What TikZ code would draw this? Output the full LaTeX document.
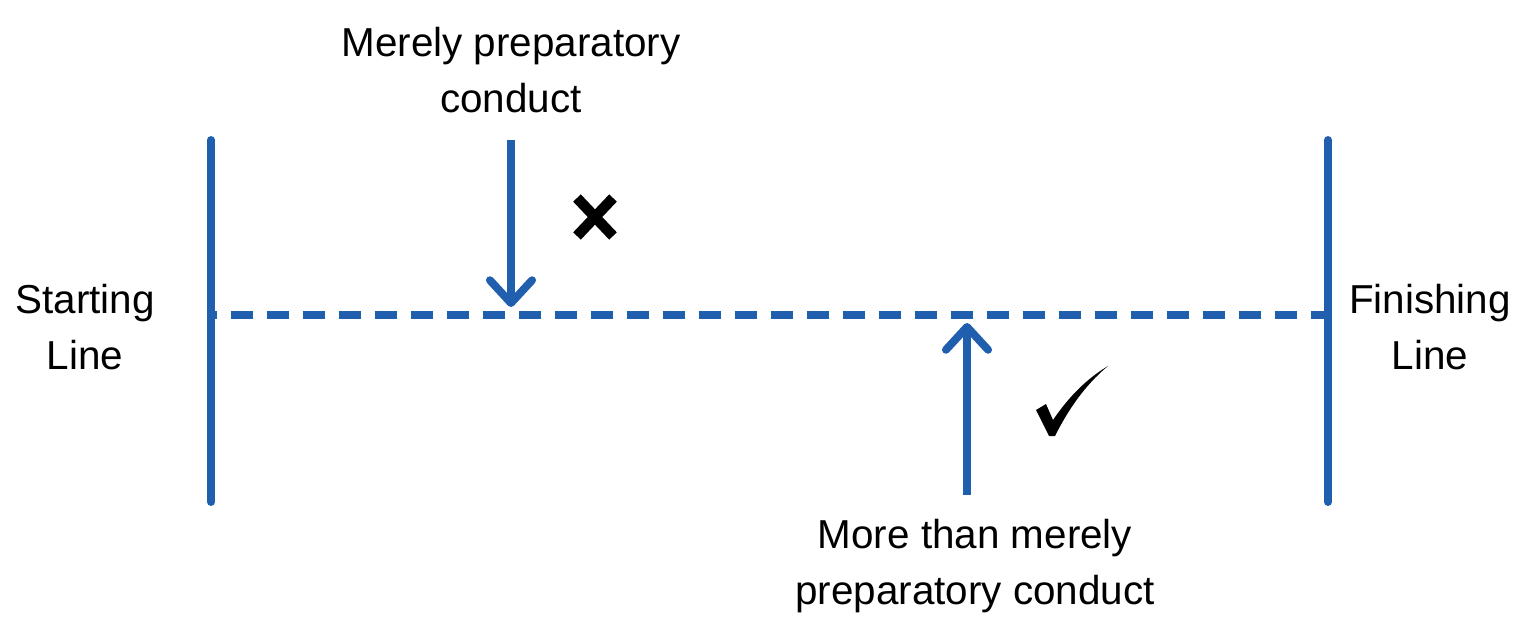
\documentclass[tikz,border=0pt]{standalone}
\usepackage{fontspec}
\setmainfont{Liberation Sans}
\usetikzlibrary{arrows.meta}
\definecolor{blu}{HTML}{1F5FAD}
\begin{document}
\begin{tikzpicture}[x=0.02cm,y=-0.02cm,
  bar/.style={blu,line width=4.5pt,line cap=round},
  arr/.style={blu,line width=4.5pt,-{Straight Barb[length=13pt,width=24pt,line width=4.5pt,round]}},
  lbl/.style={font=\fontsize{23}{32}\selectfont,align=center}]
\useasboundingbox (0,0) rectangle (1519,637);
\coordinate (ls) at (211,140); \coordinate (le) at (211,502);
\coordinate (rs) at (1328,140); \coordinate (re) at (1328,502);
\coordinate (dl) at (211,315); \coordinate (dr) at (1328,315);
\draw[bar] (ls) -- (le);
\draw[bar] (rs) -- (re);
\draw[blu,line width=4pt,dash pattern=on 0.44cm off 0.28cm,dash phase=-0.4cm] (dl) -- (dr);
\node[lbl] (top) at (511,70) {Merely preparatory\\conduct};
\node[lbl] (bot) at (975,566) {More than merely\\preparatory conduct};
\node[lbl] (sl) at (85,327) {Starting\\Line};
\node[lbl] (fl) at (1430,327) {Finishing\\Line};
\coordinate (da) at (511,140); \coordinate (db) at (511,307);
\coordinate (ua) at (967,495); \coordinate (ub) at (967,323);
\draw[arr] (da) -- (db);
\draw[arr] (ua) -- (ub);
\coordinate (x1) at (577,198); \coordinate (x2) at (613,236);
\coordinate (x3) at (613,198); \coordinate (x4) at (577,236);
\draw[line width=6pt] (x1) -- (x2) (x3) -- (x4);
\fill (1036,410) -- (1046,404) -- (1053,420) .. controls (1070,395) and (1088,378) .. (1108,366)
  .. controls (1085,385) and (1068,410) .. (1055,436) -- (1049,436) -- cycle;
\end{tikzpicture}
\end{document}
